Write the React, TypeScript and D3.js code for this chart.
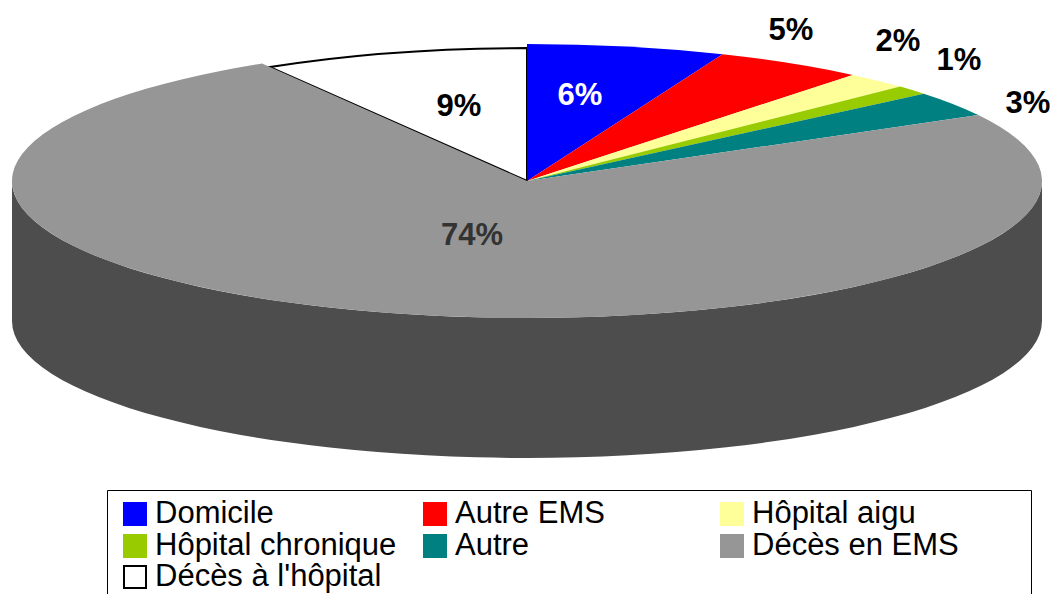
import React from 'react';
import * as d3 from 'd3';

const categories = ['Domicile', 'Autre EMS', 'Hôpital aigu', 'Hôpital chronique', 'Autre', 'Décès en EMS', "Décès à l'hôpital"];
const shares = [6.2, 4.7, 2, 1.1, 3, 74.4, 8.6];
const colors = ['#0000ff', '#ff0000', '#ffff99', '#99cc00', '#008080', '#969696', '#ffffff'];
const labelColors = ['#ffffff', '#000000', '#000000', '#000000', '#000000', '#333333', '#000000'];
const labelSpots: [number, number][] = [[580, 94], [791, 29], [898, 40], [959, 59], [1028, 102], [472, 234], [459, 105]];

const width = 1055;
const height = 594;
const cx = 527;
const cy = 181;
const rx = 515;
const ry = 137;
const depth = 140;

const slices = d3.pie<number>().sort(null).value((d) => d)(shares);
const sliceArc = d3.arc<d3.PieArcDatum<number>>().innerRadius(0);
const fmt = (v: number) => `${ Math.round(v) }%`;

// draw order: the white slice goes first so the grey one covers its left radius
const drawOrder = [6, 0, 1, 2, 3, 4, 5];
const legendX = d3.scaleOrdinal<number, number>().domain([0, 1, 2]).range([123, 423, 720]);
const legendY = d3.scaleOrdinal<number, number>().domain([0, 1, 2]).range([502, 534, 565]);

const wall = `M${ cx - rx },${ cy }A${ rx },${ ry } 0 0 0 ${ cx + rx },${ cy }`
	+ `L${ cx + rx },${ cy + depth }A${ rx },${ ry } 0 0 1 ${ cx - rx },${ cy + depth }Z`;

const App = () => (
	<svg width={ width } height={ height } style={{ position: 'absolute', left: 0, top: 0, background: '#fff', fontFamily: '"Liberation Sans", Arial, sans-serif' }}>
		<path d={ wall } fill="#4d4d4d" />
		<g transform={ `translate(${ cx },${ cy }) scale(1,${ ry / rx })` }>
			{ drawOrder.map((i) => {
				const isWhite = i === 6;
				// the outer edge of the white slice sits a little lower in the picture
				const d = sliceArc.outerRadius(isWhite ? rx * 0.97 : rx)(slices[i]) as string;
				return (
					<path
						key={ categories[i] }
						d={ d }
						fill={ colors[i] }
						stroke={ isWhite ? '#000' : 'none' }
						strokeWidth={ isWhite ? 2 : 0 }
						vectorEffect="non-scaling-stroke"
					/>
				);
			}) }
		</g>
		{ shares.map((v, i) => (
			<text key={ categories[i] } x={ labelSpots[i][0] } y={ labelSpots[i][1] + 11 } textAnchor="middle" fontSize={ 31 } fontWeight="bold" fill={ labelColors[i] }>
				{ fmt(v) }
			</text>
		)) }
		<path d="M107.5,594V490.5H1031.5V594" fill="none" stroke="#000" strokeWidth={ 1 } />
		{ categories.map((name, i) => {
			const x = legendX(i % 3);
			const y = legendY(Math.floor(i / 3));
			const isWhite = i === 6;
			return (
				<g key={ name }>
					<rect
						x={ isWhite ? x + 1 : x }
						y={ isWhite ? y + 1 : y }
						width={ isWhite ? 22 : 24 }
						height={ isWhite ? 22 : 24 }
						fill={ colors[i] }
						stroke={ isWhite ? '#000' : 'none' }
						strokeWidth={ 2 }
					/>
					<text x={ x + 32 } y={ y + 21 } fontSize={ 31 } fill="#000">{ name }</text>
				</g>
			);
		}) }
	</svg>
);

export default App;
